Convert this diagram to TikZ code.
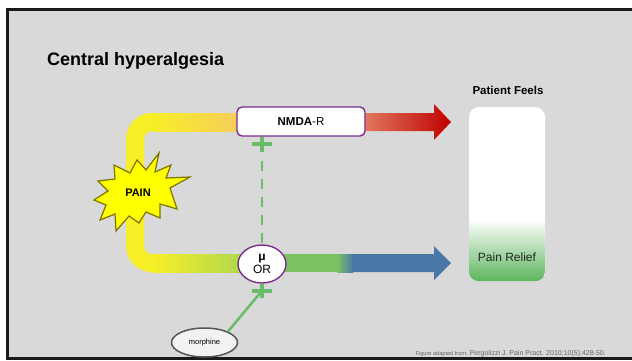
\documentclass[tikz,border=0pt]{standalone}
\usepackage{fontspec}
\setmainfont{Liberation Sans}
\usetikzlibrary{calc,shapes.geometric}
\definecolor{bg}{HTML}{D9D9D9}
\definecolor{frame}{HTML}{1A1A1A}
\definecolor{pipeyellow}{HTML}{F7EF28}
\definecolor{pipeorange}{HTML}{F6CC5A}
\definecolor{pipelime}{HTML}{B2D84C}
\definecolor{salmon}{HTML}{E27B60}
\definecolor{darkred}{HTML}{C00000}
\definecolor{arrowgreen}{HTML}{7CC263}
\definecolor{arrowblue}{HTML}{4A78A6}
\definecolor{plusgreen}{HTML}{69BD6A}
\definecolor{purp}{HTML}{7B2D8E}
\definecolor{relief}{HTML}{5BB55B}
\definecolor{starfill}{HTML}{FFFF00}
\definecolor{stardraw}{HTML}{7F7300}
\definecolor{morphfill}{HTML}{F2F2F2}
\definecolor{morphdraw}{HTML}{555555}
\tikzset{
  receptor/.style={draw=purp, line width=1.4pt, fill=white, inner sep=0pt},
  greenline/.style={draw=plusgreen, line width=2.5pt},
  plusbar/.style={draw=plusgreen, line width=4pt},
  lbl/.style={inner sep=0pt, text=black}
}
\begin{document}
\begin{tikzpicture}[x=1pt,y=-1pt]
\useasboundingbox (0,0) rectangle (632,360);
\clip (0,0) rectangle (632,360);
\fill[white] (0,0) rectangle (632,360);
\draw[line width=3pt, draw=frame, fill=bg] (7.5,9.5) rectangle (660,358.5);

% title
\node[lbl, anchor=base west, font=\fontsize{18}{20}\selectfont\bfseries] (title) at (47,65) {Central hyperalgesia};

% U-shaped pipe
\draw[pipeyellow, line width=18pt, rounded corners=17pt] (240,122) -- (135,122) -- (135,263) -- (240,263);
\shade[left color=pipeyellow, right color=pipeorange] (152,113) rectangle (240,131);
\shade[left color=pipeyellow, right color=pipelime] (152,254) rectangle (240,272);

% red arrow
\shade[left color=salmon, right color=darkred] (363,113) -- (434,113) -- (434,104) -- (451,122) -- (434,140) -- (434,131) -- (363,131) -- cycle;

% green/blue arrow
\fill[arrowgreen] (284,254) rectangle (338,272);
\shade[left color=arrowgreen, right color=arrowblue] (337,254) rectangle (353,272);
\fill[arrowblue] (352,254) -- (434,254) -- (434,246) -- (451,263) -- (434,280) -- (434,272) -- (352,272) -- cycle;

% receptors
\node[receptor, rectangle, rounded corners=5pt, minimum width=128pt, minimum height=29pt, font=\fontsize{11.5}{13}\selectfont] (nmda) at (301,121.5) {\textbf{NMDA}-R};
\node[receptor, ellipse, minimum width=48pt, minimum height=38pt, align=center, font=\fontsize{12}{13.5}\selectfont] (mor) at (262,264) {\textbf{μ}\\OR};

% morphine
\node[ellipse, draw=morphdraw, fill=morphfill, line width=1.5pt, minimum width=66pt, minimum height=29pt, inner sep=0pt, font=\fontsize{7.5}{9}\selectfont] (morph) at (204.5,342.5) {morphine};

% dashed link NMDA <-> muOR
\coordinate (ptop) at ($(mor.north |- nmda.south)+(0,7)$);
\draw[plusbar] (mor.north |- nmda.south) -- ($(ptop)+(0,8)$);
\draw[plusbar] ($(ptop)+(-10,0)$) -- ($(ptop)+(10,0)$);
\draw[greenline, dash pattern=on 10pt off 8pt] ($(ptop)+(0,17)$) -- (mor.north);

% morphine -> muOR
\coordinate (pbot) at ($(mor.south)+(0,7)$);
\draw[greenline] (morph.25) -- (pbot);
\draw[plusbar] (mor.south) -- ($(pbot)+(0,7)$);
\draw[plusbar] ($(pbot)+(-10,0)$) -- ($(pbot)+(10,0)$);

% PAIN starburst
\filldraw[fill=starfill, draw=stardraw, line width=1.2pt, line join=miter]
  (159,153) -- (155,172) -- (171,165) -- (166,178) -- (190,177) -- (170,188) -- (177,209) -- (160,204) -- (160,218) -- (146,212) -- (139,223) -- (129,216) -- (116,231) -- (115,214) -- (100,220) -- (106,205) -- (94,200) -- (108,191) -- (98,181) -- (115,179) -- (114,165) -- (130,173) -- (137,160) -- (146,170) -- cycle;
\node[lbl, font=\fontsize{11}{12}\selectfont\bfseries] (pain) at (138,193) {PAIN};

% patient feels
\node[lbl, font=\fontsize{11.5}{13}\selectfont\bfseries] (pfhead) at (508,90) {Patient Feels};
\node[rectangle, rounded corners=10pt, minimum width=76pt, minimum height=174pt, fill=white, inner sep=0pt] (feels) at (507,194) {};
\begin{scope}
  \clip[rounded corners=10pt] (feels.north west) rectangle (feels.south east);
  \foreach \i in {0,...,31} {
    \pgfmathsetmacro{\pc}{100*\i/31}
    \fill[relief!\pc!white] (469,{219+2*\i}) rectangle (545,{219+2*\i+2.2});
  }
\end{scope}
\node[lbl, anchor=base, text=black!85, font=\fontsize{12}{13}\selectfont] (relief) at (507,261) {Pain Relief};

% footnote
\node[lbl, anchor=base east, text=black!60, font=\fontsize{7}{8}\selectfont] (fn) at (606,355) {{\fontsize{5.6}{7}\selectfont Figure adapted from: }Pergolizzi J. Pain Pract. 2010;10(5):428-50.};
\end{tikzpicture}
\end{document}
